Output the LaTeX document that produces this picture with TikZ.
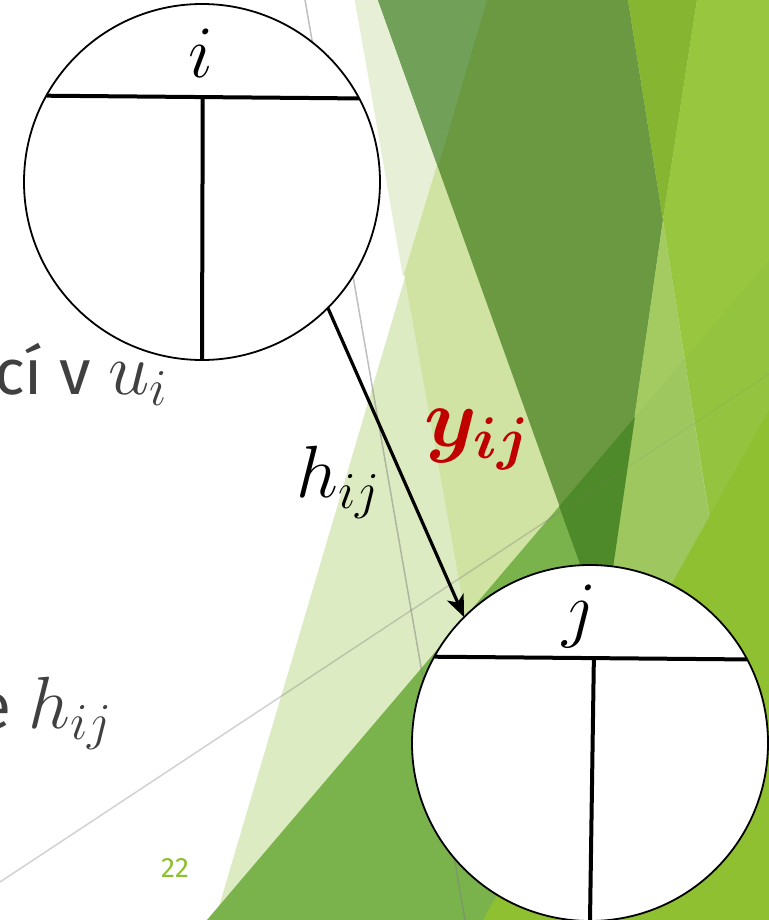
\RequirePackage{fix-cm}
\documentclass[tikz,border=0pt]{standalone}
\usepackage{bm}
\usepackage{fontspec}
\setsansfont{Fira Sans}
\usetikzlibrary{arrows.meta,calc}
\definecolor{cB}{HTML}{DDEBC2}
\definecolor{cAB}{HTML}{D0E3A2}
\definecolor{cA}{HTML}{E7F0D6}
\definecolor{cDark}{HTML}{6A9941}
\definecolor{cDarkA}{HTML}{71A058}
\definecolor{cOlive}{HTML}{86B532}
\definecolor{cLight}{HTML}{98C63E}
\definecolor{cPale}{HTML}{A3CB62}
\definecolor{cG}{HTML}{7AB34C}
\definecolor{cDarkG}{HTML}{4F8A2A}
\definecolor{cBright}{HTML}{8FC031}
\definecolor{textgray}{HTML}{404040}
\definecolor{pnum}{HTML}{8DC02E}
\definecolor{yred}{HTML}{C00000}
\tikzset{
  tnode/.style={circle, draw=black, fill=white, line width=0.9pt, minimum size=178pt, inner sep=0pt, outer sep=0pt},
  tline/.style={line width=2pt},
  conn/.style={line width=1.6pt, -{Stealth[length=11pt,width=9pt,inset=3pt]}},
  mathlbl/.style={font=\fontsize{37}{40}\selectfont, inner sep=0pt},
  sidetext/.style={text=textgray, font=\sffamily\fontsize{32}{36}\selectfont, inner sep=0pt},
  grayline/.style={gray, line width=0.75pt}
}
\begin{document}
\begin{tikzpicture}[x=0.5pt,y=-0.5pt]
\useasboundingbox (0,0) rectangle (769,920);
\clip (0,0) rectangle (769,920);
\fill[white] (0,0) rectangle (769,920);
% background facets
\fill[cB] (487,0) -- (769,0) -- (769,920) -- (215,920) -- cycle;
\fill[cAB] (355,0) -- (769,0) -- (769,920) -- (520,920) -- cycle;
\fill[cA] (355,0) -- (487,0) -- (403,277) -- cycle;
\fill[cDark] (378,0) -- (628,0) -- (663,220) -- (604,630) -- cycle;
\fill[cDarkA] (378,0) -- (487,0) -- (438,167) -- cycle;
\fill[cOlive] (628,0) -- (697,0) -- (663,220) -- cycle;
\fill[cLight] (697,0) -- (769,0) -- (769,898) -- (663,220) -- cycle;
\fill[cPale] (663,220) -- (709,517) -- (589,731) -- cycle;
\fill[cG] (207,920) -- (559,506.5) -- (604,630) -- (604,920) -- cycle;
\fill[cDarkG] (559,506.5) -- (635,417) -- (604,630) -- cycle;
\fill[cG, opacity=0.12] (635,417) -- (769,260) -- (769,920) -- (604,920) -- (604,630) -- cycle;
\fill[cBright] (769,410) -- (483,920) -- (769,920) -- cycle;
% thin grey lines
\draw[grayline, opacity=0.5] (305,0) -- (465,920);
\draw[grayline, opacity=0.35] (0,882) -- (560,512);
\draw[grayline, opacity=0.12] (560,512) -- (769,374);
% nodes
\node[tnode] (i) at (202,182) {};
\node[tnode] (j) at (590,743) {};
\draw[tline] (i.151.8) -- (i.28.2);
\draw[tline] ($(i.151.8)!0.5!(i.28.2)$) -- (i.south);
\draw[tline] (j.151.8) -- (j.28.2);
\draw[tline] ($(j.151.8)!0.51!(j.28.2)$) -- (j.south);
\node[mathlbl, anchor=base] (li) at (201,78) {$i$};
\node[mathlbl, anchor=base] (lj) at (580,633) {$j$};
% connector
\draw[conn] (i.-45) -- (j.135);
\node[mathlbl, anchor=base west] (hlbl) at (296,497) {$h_{ij}$};
\node[mathlbl, anchor=base west, text=yred, font=\fontsize{42}{46}\selectfont] (ylbl) at (424,446) {$\bm{y_{ij}}$};
% slide text
\node[sidetext, anchor=base east] (t1) at (168,394) {cí v {\fontsize{37}{40}\selectfont$u_i$}};
\node[sidetext, anchor=base east] (t2) at (113,728) {e {\fontsize{37}{40}\selectfont$h_{ij}$}};
\node[font=\sffamily\fontsize{14}{16}\selectfont, text=pnum, inner sep=0pt] (pg) at (175,868) {22};
\end{tikzpicture}
\end{document}
